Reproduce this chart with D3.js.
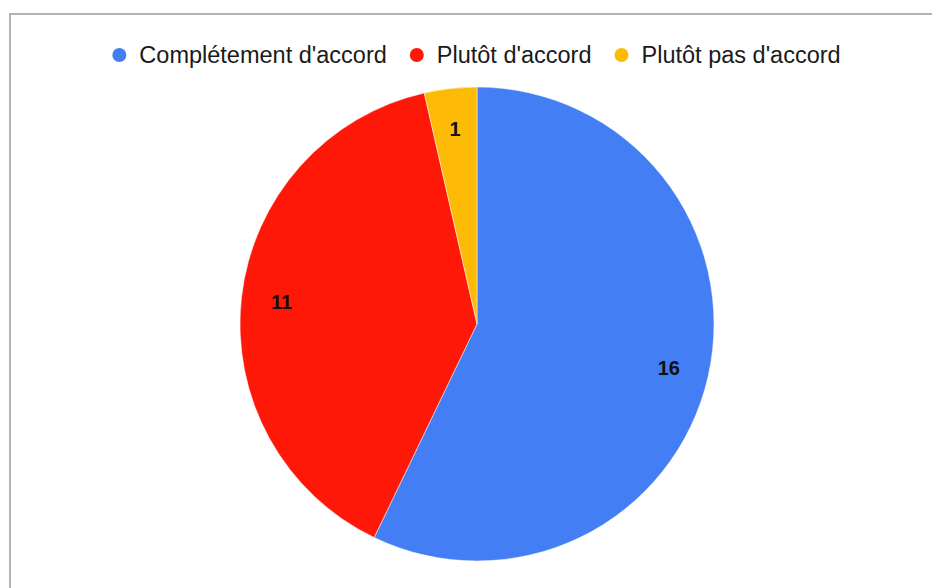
<!DOCTYPE html>
<html><head><meta charset="utf-8">
<script src="https://cdn.jsdelivr.net/npm/d3@7/dist/d3.min.js"></script>
<style>html,body{margin:0;padding:0;background:#fff;}svg{display:block;}</style>
</head><body>
<svg id="chart" width="932" height="588"></svg>
<script>
const categories = ["Complétement d'accord", "Plutôt d'accord", "Plutôt pas d'accord"];
const values = [16, 11, 1];
const colors = ["#437ef5", "#ff1708", "#fdbb06"];

const svg = d3.select("#chart");
const W = 932, H = 588;

// frame
svg.append("path")
  .attr("d", `M10,${H} L10,14 L${W},14`)
  .attr("fill", "none").attr("stroke", "#b3b3b3").attr("stroke-width", 2);

const cx = 477, cy = 324, r = 237;
const pie = d3.pie().sort(null).value(d => d)(values);
const arc = d3.arc().innerRadius(0).outerRadius(r);
const labelArc = d3.arc().innerRadius(r * 0.83).outerRadius(r * 0.83);

const g = svg.append("g").attr("transform", `translate(${cx},${cy})`);
g.selectAll("path.slice").data(pie).join("path")
  .attr("class", "slice")
  .attr("d", arc)
  .attr("fill", (d, i) => colors[i])
  .attr("stroke", "#fff").attr("stroke-width", 0.5);

g.selectAll("text.lbl").data(pie).join("text")
  .attr("class", "lbl")
  .attr("transform", d => `translate(${labelArc.centroid(d)})`)
  .attr("text-anchor", "middle")
  .attr("dominant-baseline", "central")
  .attr("font-family", "'Liberation Sans', Arial, sans-serif")
  .attr("font-weight", "bold")
  .attr("font-size", 20)
  .attr("fill", "#111")
  .text(d => d.data);

// legend
const lg = svg.append("g");
let x = 0;
categories.forEach((c, i) => {
  const it = lg.append("g");
  it.append("circle").attr("cx", x + 6).attr("cy", 55).attr("r", 7).attr("fill", colors[i]);
  const t = it.append("text").attr("x", x + 26).attr("y", 55)
    .attr("dominant-baseline", "central")
    .attr("font-family", "'Liberation Sans', Arial, sans-serif")
    .attr("font-size", 23.5).attr("fill", "#1a1a1a").text(c);
  const w = t.node().getComputedTextLength();
  x = x + 26 + w + 24;
});
const totalW = x - 24;
lg.attr("transform", `translate(${cx - totalW / 2},0)`);
</script>
</body></html>
